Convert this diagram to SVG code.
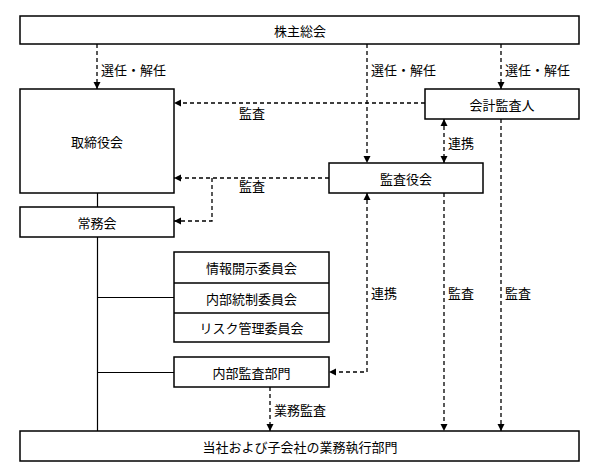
<svg xmlns="http://www.w3.org/2000/svg" width="599" height="476" viewBox="0 0 599 476">
<style>
.box{fill:#fff;stroke:#000;stroke-width:1.5}
.solid{fill:none;stroke:#000;stroke-width:1.2}
.dash{fill:none;stroke:#000;stroke-width:1.3;stroke-dasharray:4 3}
.t{font-family:"Noto Sans CJK JP","Noto Sans",sans-serif;font-size:13px;fill:#000;dominant-baseline:central}
.c{text-anchor:middle}
</style>
<defs>
<marker id="ah" markerUnits="userSpaceOnUse" markerWidth="8" markerHeight="8" viewBox="0 0 8 8" refX="7.5" refY="4" orient="auto-start-reverse">
<path d="M0.5,0.5 L7.5,4 L0.5,7.5 Z" fill="#000"/>
</marker>
</defs>
<rect width="599" height="476" fill="#fff"/>
<g id="connectors">
<path class="solid" d="M97.5,193 V207 M97.5,237 V431 M97.5,297.5 H174 M97.5,372.5 H174"/>
<path class="dash" d="M97,44 V89" marker-end="url(#ah)"/>
<path class="dash" d="M367,44 V163" marker-end="url(#ah)"/>
<path class="dash" d="M501,44 V89" marker-end="url(#ah)"/>
<path class="dash" d="M425,103 H174" marker-end="url(#ah)"/>
<path class="dash" d="M329,178 H174" marker-end="url(#ah)"/>
<path class="dash" d="M212,178 V221 H174" marker-end="url(#ah)"/>
<path class="dash" d="M444,119 V163" marker-start="url(#ah)" marker-end="url(#ah)"/>
<path class="dash" d="M444,193 V431" marker-end="url(#ah)"/>
<path class="dash" d="M501,119 V431" marker-end="url(#ah)"/>
<path class="dash" d="M367,193 V372 H329" marker-start="url(#ah)" marker-end="url(#ah)"/>
<path class="dash" d="M270,387 V431" marker-end="url(#ah)"/>
<text class="t" x="101" y="69">選任・解任</text>
<text class="t" x="371" y="69">選任・解任</text>
<text class="t" x="505" y="69">選任・解任</text>
<text class="t c" x="252" y="112">監査</text>
<text class="t c" x="252" y="185">監査</text>
<text class="t" x="448" y="142">連携</text>
<text class="t" x="371" y="292">連携</text>
<text class="t" x="448" y="292">監査</text>
<text class="t" x="505" y="292">監査</text>
<text class="t" x="274" y="409">業務監査</text>
</g>
<g id="shareholders"><rect class="box" x="20" y="16" width="559" height="28"/><text class="t c" x="300" y="30">株主総会</text></g>
<g id="board"><rect class="box" x="20" y="89" width="154" height="104"/><text class="t c" x="97" y="141">取締役会</text></g>
<g id="executive"><rect class="box" x="20" y="207" width="154" height="30"/><text class="t c" x="97" y="222">常務会</text></g>
<g id="auditor"><rect class="box" x="425" y="89" width="154" height="30"/><text class="t c" x="502" y="104">会計監査人</text></g>
<g id="audit-board"><rect class="box" x="329" y="163" width="154" height="30"/><text class="t c" x="406" y="178">監査役会</text></g>
<g id="committees">
<rect class="box" x="174" y="252" width="155" height="90"/>
<path class="solid" d="M174,283 H329 M174,313 H329" style="stroke-width:1.5"/>
<text class="t c" x="251.5" y="267.5">情報開示委員会</text>
<text class="t c" x="251.5" y="298">内部統制委員会</text>
<text class="t c" x="251.5" y="327.5">リスク管理委員会</text>
</g>
<g id="internal-audit"><rect class="box" x="174" y="357" width="155" height="30"/><text class="t c" x="251.5" y="372">内部監査部門</text></g>
<g id="operations"><rect class="box" x="20" y="431" width="559" height="30"/><text class="t c" x="300" y="446">当社および子会社の業務執行部門</text></g>
</svg>
